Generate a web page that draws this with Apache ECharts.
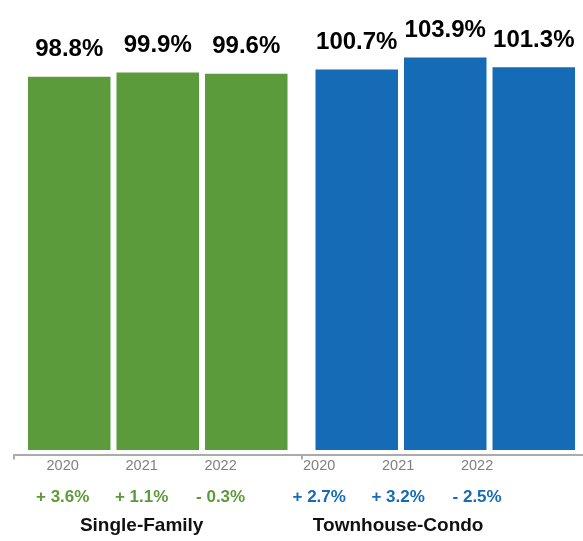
<!DOCTYPE html>
<html>
<head>
<meta charset="utf-8">
<script src="https://cdn.jsdelivr.net/npm/echarts@6/dist/echarts.min.js"></script>
<style>
html,body{margin:0;padding:0;background:#fff;}
#chart{width:583px;height:541px;}
</style>
</head>
<body>
<div id="chart"></div>
<script>
const categories = ['Single-Family', 'Townhouse-Condo'];
const years = ['2020', '2021', '2022'];
const values2020 = [98.8, 100.7];
const values2021 = [99.9, 103.9];
const values2022 = [99.6, 101.3];
const changes2020 = ['+ 3.6%', '+ 2.7%'];
const changes2021 = ['+ 1.1%', '+ 3.2%'];
const changes2022 = ['- 0.3%', '- 2.5%'];

const valuesByYear = [values2020, values2021, values2022];
const changesByYear = [changes2020, changes2021, changes2022];
const groupColors = ['#5b9b3b', '#156bb5'];
const FONT = '"Liberation Sans", Arial, Helvetica, sans-serif';

const chart = echarts.init(document.getElementById('chart'), null, {renderer: 'canvas'});

const series = [];
years.forEach((yr, i) => {
  series.push({
    type: 'bar',
    name: yr,
    xAxisIndex: 0,
    yAxisIndex: 0,
    barWidth: 82.5,
    barGap: '7.3%',
    silent: true,
    data: valuesByYear[i].map((v, j) => ({value: v, itemStyle: {color: groupColors[j]}})),
    label: {
      show: true,
      position: 'top',
      distance: 15,
      fontFamily: FONT,
      fontSize: 24,
      fontWeight: 'bold',
      color: '#000',
      formatter: p => p.value.toFixed(1) + '%'
    }
  });
});
years.forEach((yr, i) => {
  series.push({
    type: 'bar',
    name: yr + ' labels',
    xAxisIndex: 1,
    yAxisIndex: 1,
    barWidth: 73.6,
    barGap: '7.3%',
    silent: true,
    itemStyle: {color: 'rgba(0,0,0,0)'},
    data: valuesByYear[i],
    label: {
      show: true,
      position: 'bottom',
      distance: 1,
      fontFamily: FONT,
      formatter: p => '{y|' + yr + '}\n{c' + p.dataIndex + '|' + changesByYear[i][p.dataIndex] + '}',
      rich: {
        y: {fontFamily: FONT, fontSize: 14.5, color: '#7f7f7f', lineHeight: 31},
        c0: {fontFamily: FONT, fontSize: 17, fontWeight: 'bold', color: groupColors[0], lineHeight: 31},
        c1: {fontFamily: FONT, fontSize: 17, fontWeight: 'bold', color: groupColors[1], lineHeight: 31}
      }
    }
  });
});

chart.setOption({
  backgroundColor: '#fff',
  animation: false,
  grid: [
    {left: 14, width: 575, top: 34.4, bottom: 86.5, outerBoundsMode: 'none', containLabel: false},
    {left: 13.4, width: 513, top: 34.4, bottom: 86.5, outerBoundsMode: 'none', containLabel: false}
  ],
  xAxis: [
    {
      type: 'category', gridIndex: 0, data: categories,
      axisLine: {show: true, onZero: false, lineStyle: {color: '#ababab', width: 2}},
      axisTick: {show: true, length: 5, lineStyle: {color: '#ababab', width: 2}},
      axisLabel: {show: false}
    },
    {
      type: 'category', gridIndex: 1, data: categories,
      axisLine: {show: false, onZero: false}, axisTick: {show: false},
      axisLabel: {show: true, margin: 61.5, fontFamily: FONT, fontSize: 19, fontWeight: 'bold', color: '#111'}
    }
  ],
  yAxis: [
    {type: 'value', gridIndex: 0, min: -1.2, max: 110, show: false},
    {type: 'value', gridIndex: 1, min: -1.2, max: 110, show: false}
  ],
  series: series
});
</script>
</body>
</html>
